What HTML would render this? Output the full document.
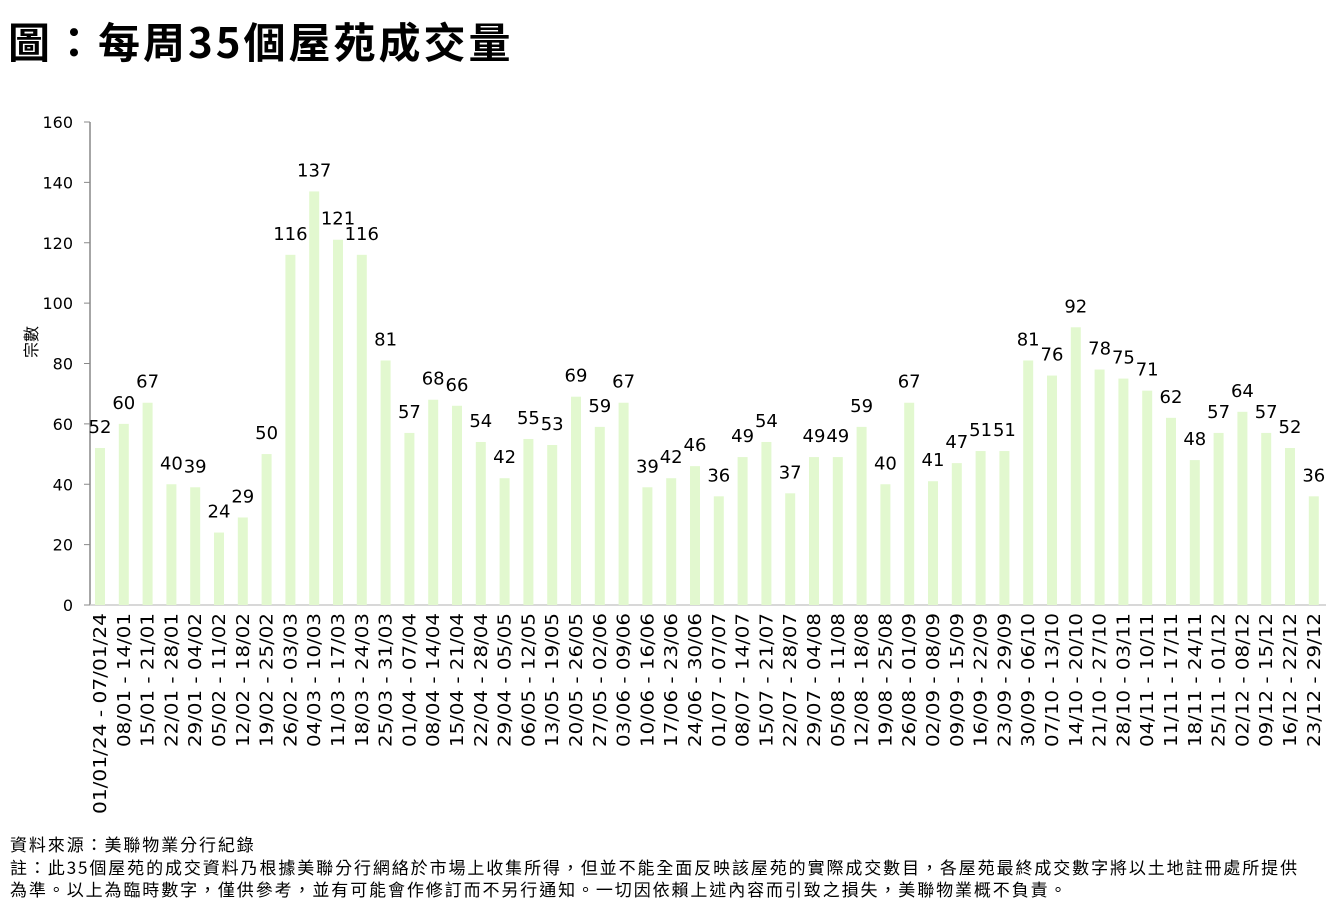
<!DOCTYPE html>
<html><head><meta charset="utf-8"><style>
body{margin:0;background:#fff;width:1344px;height:919px;overflow:hidden;font-family:"DejaVu Sans","Noto Sans CJK TC",sans-serif}
.t{position:absolute;left:8px;top:10px;font-size:42px;font-weight:bold;font-family:"Noto Sans CJK TC",sans-serif;letter-spacing:3px}
.n{position:absolute;left:10px;font-size:17px;font-family:"Noto Sans CJK TC",sans-serif;line-height:22px;letter-spacing:1.9px;white-space:nowrap}
</style></head><body>
<div class="t">圖：每周35個屋苑成交量</div>
<svg id="c" width="1344" height="919" style="position:absolute;left:0;top:0" font-family="DejaVu Sans, Noto Sans CJK TC, sans-serif"></svg>
<div class="n" style="top:833px">資料來源：美聯物業分行紀錄</div>
<div class="n" style="top:856px">註：此35個屋苑的成交資料乃根據美聯分行網絡於市場上收集所得，但並不能全面反映該屋苑的實際成交數目，各屋苑最終成交數字將以土地註冊處所提供<br>為準。以上為臨時數字，僅供參考，並有可能會作修訂而不另行通知。一切因依賴上述內容而引致之損失，美聯物業概不負責。</div>
<script>
const v=[52,60,67,40,39,24,29,50,116,137,121,116,81,57,68,66,54,42,55,53,69,59,67,39,42,46,36,49,54,37,49,49,59,40,67,41,47,51,51,81,76,92,78,75,71,62,48,57,64,57,52,36];
let s='';const y0=605,k=(605-122)/160;
for(let i=0;i<=8;i++){const y=y0-i*20*k;s+=`<line x1="84" x2="90" y1="${y}" y2="${y}" stroke="#888"/><text x="73" y="${y+6}" font-size="16" text-anchor="end">${i*20}</text>`;}
s+=`<line x1="90" x2="90" y1="122" y2="605" stroke="#888" stroke-width="1.5"/><line x1="90" x2="1326" y1="605" y2="605" stroke="#ccc" stroke-width="1.5"/>`;
s+=`<text transform="translate(37,342) rotate(-90)" font-size="16" text-anchor="middle" font-family="Noto Sans CJK TC">宗數</text>`;
const d0=new Date(2024,0,1);const f=d=>String(d.getDate()).padStart(2,'0')+'/'+String(d.getMonth()+1).padStart(2,'0');
for(let i=0;i<52;i++){const cx=100+i*23.8,h=v[i]*k;
s+=`<rect x="${cx-5}" y="${y0-h}" width="10" height="${h}" fill="#e2f8cf"/>`;
s+=`<text x="${cx}" y="${y0-h-15}" font-size="18" text-anchor="middle">${v[i]}</text>`;
const a=new Date(d0.getTime()+i*7*864e5),b=new Date(a.getTime()+6*864e5);
const lab=i==0?'01/01/24 - 07/01/24':f(a)+' - '+f(b);
s+=`<text transform="translate(${cx+6},613) rotate(-90)" font-size="17.5" text-anchor="end" textLength="${i==0?201:134}" lengthAdjust="spacingAndGlyphs">${lab}</text>`;}
document.getElementById('c').innerHTML=s;
</script>
</body></html>
